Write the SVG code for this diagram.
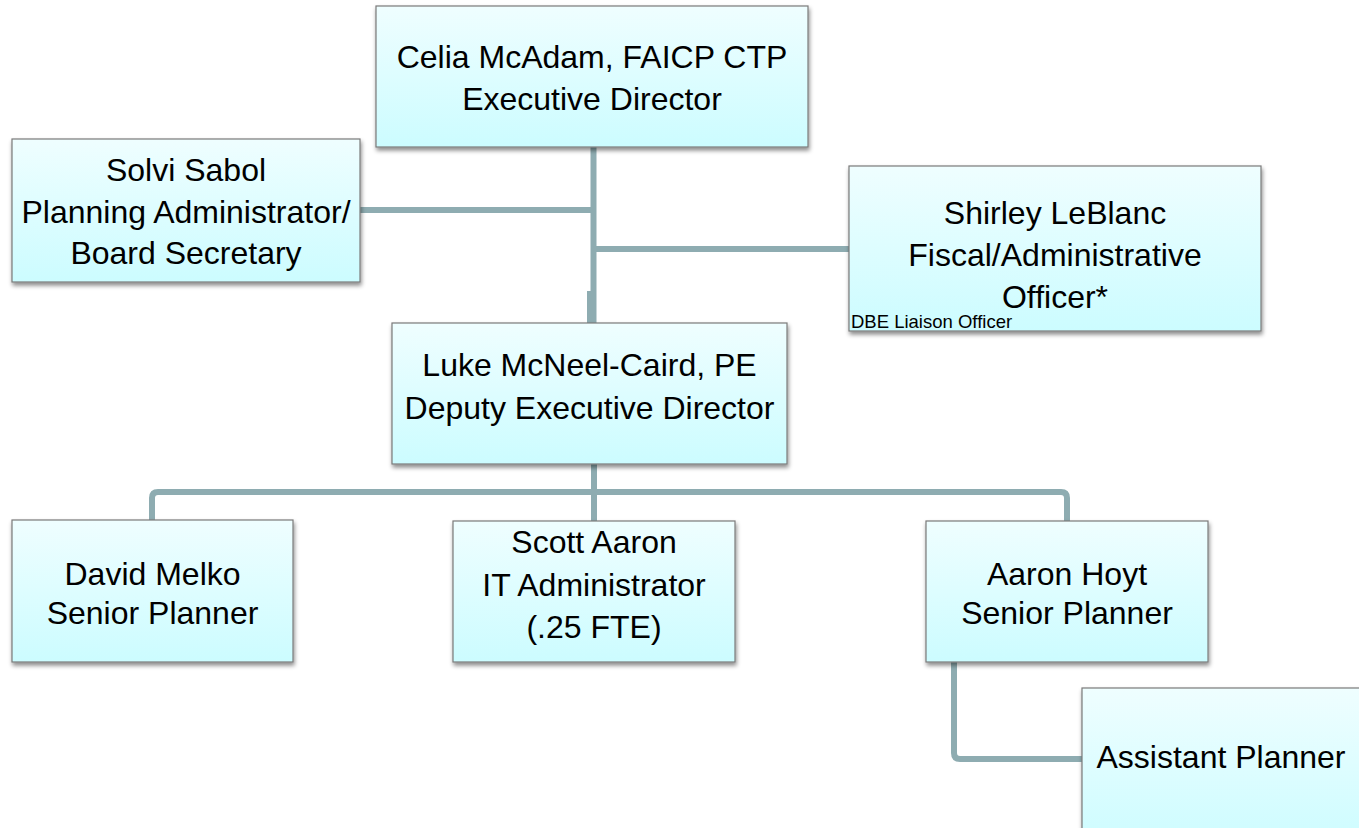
<svg xmlns="http://www.w3.org/2000/svg" width="1359" height="828" viewBox="0 0 1359 828">
<defs>
<linearGradient id="g" x1="0" y1="0" x2="0" y2="1">
<stop offset="0" stop-color="#effeff"/>
<stop offset="1" stop-color="#ccfcff"/>
</linearGradient>
<filter id="sh" x="-10%" y="-10%" width="125%" height="130%">
<feDropShadow dx="1" dy="3" stdDeviation="2" flood-color="#000" flood-opacity="0.45"/>
</filter>
</defs>
<style>
.box{fill:url(#g);stroke:#7a7a7a;stroke-width:1.2;filter:url(#sh)}
.t{font-family:"Liberation Sans",Arial,sans-serif;font-size:32px;fill:#000;text-anchor:middle}
.s{font-family:"Liberation Sans",Arial,sans-serif;font-size:18.5px;fill:#000}
.c{fill:none;stroke:#8eacb1;stroke-width:6;stroke-linejoin:round}
</style>
<rect width="1359" height="828" fill="#fff"/>
<g id="connectors">
<path class="c" d="M593.5 147 V323"/>
<rect x="587" y="291" width="7" height="32" fill="#8eacb1"/>
<path class="c" d="M360 210 H593"/>
<path class="c" d="M593 249 H849"/>
<path class="c" d="M594 464 V521"/>
<path class="c" d="M152 520 V498 Q152 492 158 492 H1061 Q1067 492 1067 498 V521"/>
<path class="c" d="M954 662 V753 Q954 759 960 759 H1082"/>
</g>
<g id="celia">
<rect class="box" x="376" y="6" width="432" height="141"/>
<text class="t" x="592" y="68">Celia McAdam, FAICP CTP</text>
<text class="t" x="592" y="110">Executive Director</text>
</g>
<g id="solvi">
<rect class="box" x="12" y="139" width="348" height="143"/>
<text class="t" x="186" y="181">Solvi Sabol</text>
<text class="t" x="186" y="223">Planning Administrator/</text>
<text class="t" x="186" y="264">Board Secretary</text>
</g>
<g id="shirley">
<rect class="box" x="849" y="166" width="412" height="165"/>
<text class="t" x="1055" y="224">Shirley LeBlanc</text>
<text class="t" x="1055" y="266">Fiscal/Administrative</text>
<text class="t" x="1055" y="308">Officer*</text>
<text class="s" x="851" y="328">DBE Liaison Officer</text>
</g>
<g id="luke">
<rect class="box" x="392" y="323" width="395" height="141"/>
<text class="t" x="589.5" y="376">Luke McNeel-Caird, PE</text>
<text class="t" x="589.5" y="419">Deputy Executive Director</text>
</g>
<g id="david">
<rect class="box" x="12" y="520" width="281" height="142"/>
<text class="t" x="152.5" y="585">David Melko</text>
<text class="t" x="152.5" y="624">Senior Planner</text>
</g>
<g id="scott">
<rect class="box" x="453" y="521" width="282" height="141"/>
<text class="t" x="594" y="553">Scott Aaron</text>
<text class="t" x="594" y="596">IT Administrator</text>
<text class="t" x="594" y="638">(.25 FTE)</text>
</g>
<g id="aaron">
<rect class="box" x="926" y="521" width="282" height="141"/>
<text class="t" x="1067" y="585">Aaron Hoyt</text>
<text class="t" x="1067" y="624">Senior Planner</text>
</g>
<g id="assistant">
<rect class="box" x="1082" y="688" width="290" height="160"/>
<text class="t" x="1221" y="768">Assistant Planner</text>
</g>
</svg>
